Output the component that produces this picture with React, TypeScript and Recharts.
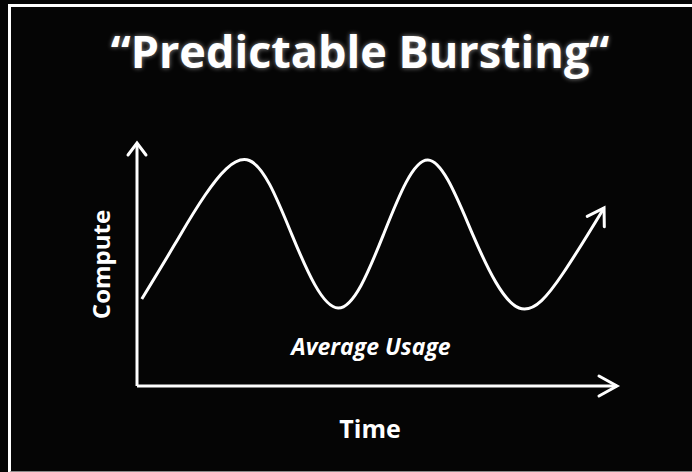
import { LineChart, Line, XAxis, YAxis, Label } from "recharts";

const TIME = [1, 7.9, 14.2, 23.4, 32.3, 41.9, 51.3, 60.6, 70, 79.6, 88.8, 97.3];
const COMPUTE = [35.8, 58.4, 78.6, 92.8, 62.1, 32.1, 62.1, 93, 62.1, 32.1, 46.5, 73.3];

const TITLE = "\u201cPredictable Bursting\u201c";
const Y_LABEL = "Compute";
const X_LABEL = "Time";
const NOTE = "Average Usage";

const font = "'Open Sans', 'DejaVu Sans', sans-serif";

export default function App() {
  const data = TIME.map((t, i) => ({ t, c: COMPUTE[i] }));

  return (
    <div
      style={{
        position: "absolute",
        left: 0,
        top: 0,
        width: 692,
        height: 472,
        background: "#050505",
        overflow: "hidden",
        fontFamily: font,
      }}
    >
      {/* frame */}
      <div
        style={{
          position: "absolute",
          left: 8,
          top: 4,
          width: 700,
          height: 464,
          borderTop: "3px solid #fff",
          borderLeft: "3px solid #fff",
          borderBottom: "2px solid #888",
        }}
      />
      <div
        style={{
          position: "absolute",
          left: 0,
          width: 720,
          top: 28,
          textAlign: "center",
          color: "#fff",
          fontSize: 45,
          lineHeight: "45px",
          fontWeight: 700,
          textShadow: "0 0 5px rgba(255,255,255,0.55)",
        }}
      >
        {TITLE}
      </div>
      <div
        style={{
          position: "absolute",
          left: 0,
          width: 742,
          top: 335,
          textAlign: "center",
          color: "#fff",
          fontSize: 23,
          lineHeight: "23px",
          fontWeight: 700,
          fontStyle: "italic",
        }}
      >
        {NOTE}
      </div>
      <LineChart
        width={692}
        height={472}
        data={data}
        margin={{ top: 143, right: 75, left: 65, bottom: 52 }}
        style={{ position: "absolute", left: 0, top: 0 }}
      >
        <defs>
          <marker
            id="axisArrowY"
            markerUnits="userSpaceOnUse"
            markerWidth={30}
            markerHeight={30}
            refX={14}
            refY={11}
            orient="auto-start-reverse"
            overflow="visible"
          >
            <path d="M2,2 L14,11 L2,20" fill="none" stroke="#fff" strokeWidth={3} strokeLinecap="round" />
          </marker>
          <marker
            id="axisArrowX"
            markerUnits="userSpaceOnUse"
            markerWidth={30}
            markerHeight={30}
            refX={20}
            refY={11}
            orient="auto"
            overflow="visible"
          >
            <path d="M2,1 L20,11 L2,21" fill="none" stroke="#fff" strokeWidth={3} strokeLinecap="round" />
          </marker>
          <marker
            id="curveArrow"
            markerUnits="userSpaceOnUse"
            markerWidth={30}
            markerHeight={30}
            refX={17}
            refY={11}
            orient="auto"
            overflow="visible"
          >
            <path d="M1,1 L17,11 L1,21" fill="none" stroke="#fff" strokeWidth={3} strokeLinecap="round" />
          </marker>
        </defs>
        <XAxis
          type="number"
          dataKey="t"
          domain={[0, 100]}
          height={34}
          tick={false}
          tickLine={false}
          axisLine={{ stroke: "#fff", strokeWidth: 3, markerEnd: "url(#axisArrowX)" }}
        >
          <Label
            value={X_LABEL}
            position="bottom"
            offset={0}
            dx={-7}
            style={{ fill: "#fff", fontSize: 25, fontWeight: 700, fontFamily: font }}
          />
        </XAxis>
        <YAxis
          type="number"
          domain={[0, 100]}
          width={72}
          tick={false}
          tickLine={false}
          axisLine={{ stroke: "#fff", strokeWidth: 3, markerStart: "url(#axisArrowY)" }}
        >
          <Label
            value={Y_LABEL}
            position="center"
            angle={-90}
            style={{ fill: "#fff", fontSize: 24, fontWeight: 700, fontFamily: font }}
          />
        </YAxis>
        <Line
          type="natural"
          dataKey="c"
          stroke="#fff"
          strokeWidth={3}
          dot={false}
          activeDot={false}
          markerEnd="url(#curveArrow)"
          isAnimationActive={false}
        />
      </LineChart>
    </div>
  );
}
